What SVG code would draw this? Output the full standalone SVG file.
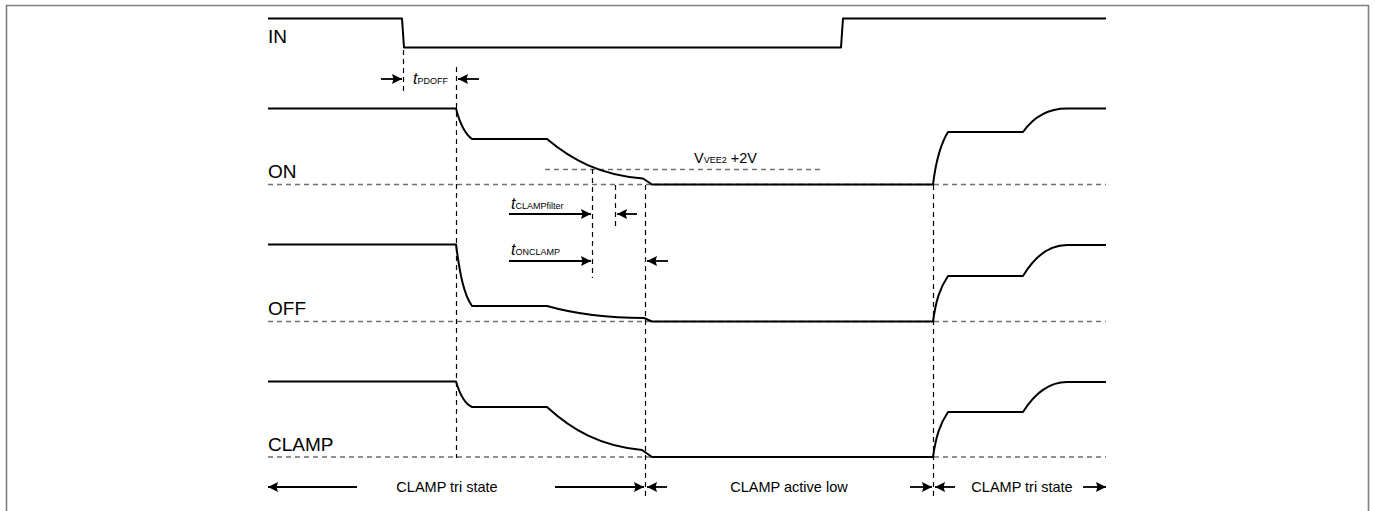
<svg xmlns="http://www.w3.org/2000/svg" width="1375" height="511" viewBox="0 0 1375 511">
<defs>
<marker id="ah" viewBox="0 0 10 10" refX="10" refY="5" markerWidth="11" markerHeight="10" markerUnits="userSpaceOnUse" orient="auto">
<path d="M0,0 L10,5 L0,10 L1.5,5 Z" fill="#000"/>
</marker>
</defs>
<style>
.sig{fill:none;stroke:#000;stroke-width:2;stroke-linejoin:round}
.base{fill:none;stroke:#6f6f6f;stroke-width:1.3;stroke-dasharray:5,4}
.vd{fill:none;stroke:#000;stroke-width:1.2;stroke-dasharray:5,4}
.arr{fill:none;stroke:#000;stroke-width:1.8;marker-end:url(#ah)}
.lbl{font-family:"Liberation Sans",Arial,sans-serif;font-size:19px;fill:#000}
.txt{font-family:"Liberation Sans",Arial,sans-serif;font-size:14.5px;fill:#000}
.ti{font-family:"Liberation Sans",Arial,sans-serif;font-size:16px;font-style:italic;fill:#000}
.sub{font-family:"Liberation Sans",Arial,sans-serif;font-size:9px;fill:#000}
</style>
<path d="M6.5,511 V5.5 H1368.5 V511" fill="none" stroke="#7f7f7f" stroke-width="1.6"/>

<g id="baselines">
<path class="base" d="M268,184.5 H1106"/>
<path class="base" d="M268,321.5 H1106"/>
<path class="base" d="M268,457 H1106"/>
<path class="base" d="M545,169.5 H820"/>
</g>

<g id="connectors">
<path class="vd" d="M403.5,50 V93"/>
<path class="vd" d="M456.5,67 V458"/>
<path class="vd" d="M592.5,169 V278"/>
<path class="vd" d="M615.5,185 V230"/>
<path class="vd" d="M645.5,185 V500"/>
<path class="vd" d="M933.5,185 V500"/>
<path class="arr" d="M381,79 H402"/>
<path class="arr" d="M479,79 H458"/>
<path class="arr" d="M509,214 H591"/>
<path class="arr" d="M637,214 H617"/>
<path class="arr" d="M509,261 H591"/>
<path class="arr" d="M668,261 H647"/>
<path class="arr" d="M357,487 H268"/>
<path class="arr" d="M555,487 H644"/>
<path class="arr" d="M667,487 H647"/>
<path class="arr" d="M910,487 H932"/>
<path class="arr" d="M955,487 H935"/>
<path class="arr" d="M1083,487 H1106"/>
</g>

<g id="IN">
<text class="lbl" x="268" y="43">IN</text>
<path class="sig" d="M268,18.5 H402 L404,47.5 H841 L843,18.5 H1106"/>
</g>

<g id="ON">
<text class="lbl" x="268" y="178">ON</text>
<path class="sig" d="M268,108.5 H456 C460,124 465,134 472,139 H547 C572,160 600,175 643,178.5 L652,184.5 H933 C936,160 940,145 948,132 H1023 C1035,115 1050,108.5 1067,108.5 H1106"/>
</g>

<g id="OFF">
<text class="lbl" x="268" y="315">OFF</text>
<path class="sig" d="M268,244.5 H456 C460,275 464,295 472,306 H547 C572,313 600,318 644,318 L652,321.5 H933 C936,300 940,288 948,276 H1023 C1035,256 1050,245 1067,245 H1106"/>
</g>

<g id="CLAMP">
<text class="lbl" x="268" y="451">CLAMP</text>
<path class="sig" d="M268,381.5 H456 C460,395 465,404 472,407 H547 C572,430 600,446 642,450 L652,457 H933 C936,436 940,424 948,412 H1023 C1035,393 1050,382 1067,382 H1106"/>
</g>

<g id="labels">
<text x="413" y="84"><tspan class="ti">t</tspan><tspan class="sub">PDOFF</tspan></text>
<text x="511" y="209"><tspan class="ti">t</tspan><tspan class="sub">CLAMPfilter</tspan></text>
<text x="511" y="255"><tspan class="ti">t</tspan><tspan class="sub">ONCLAMP</tspan></text>
<text x="694" y="163"><tspan class="txt">V</tspan><tspan class="sub">VEE2</tspan><tspan class="txt" font-size="13"> +2V</tspan></text>
<text class="txt" x="447" y="492" text-anchor="middle">CLAMP tri state</text>
<text class="txt" x="789" y="492" text-anchor="middle">CLAMP active low</text>
<text class="txt" x="1022" y="492" text-anchor="middle">CLAMP tri state</text>
</g>
</svg>
